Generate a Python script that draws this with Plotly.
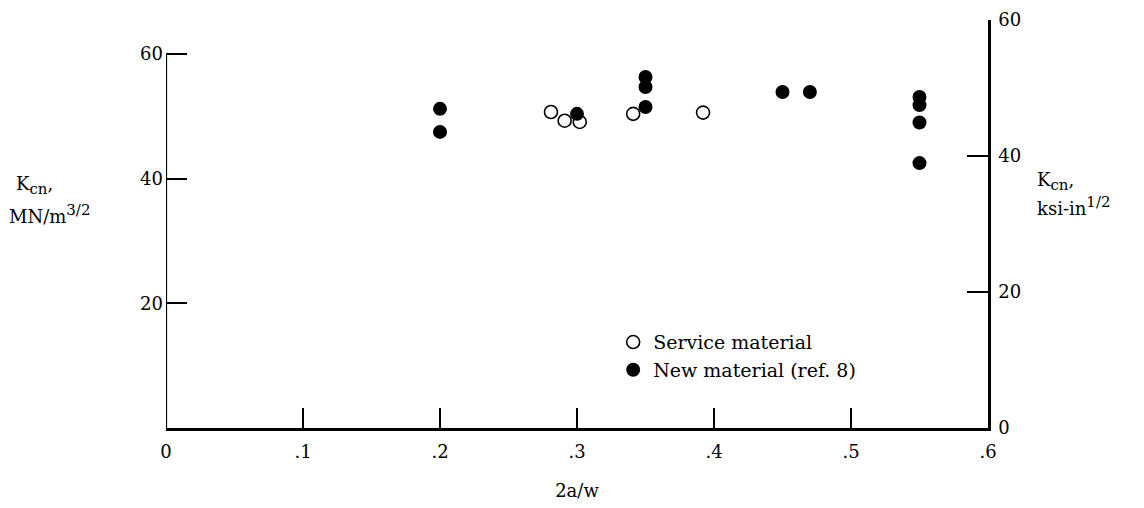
import plotly.graph_objects as go

# Data (K_cn in MN/m^3/2 vs 2a/w)
service_x = [0.281, 0.291, 0.302, 0.341, 0.392]
service_y = [50.7, 49.3, 49.1, 50.4, 50.6]

new_x = [0.20, 0.20, 0.30, 0.35, 0.35, 0.35, 0.45, 0.47, 0.55, 0.55, 0.55, 0.55]
new_y = [51.2, 47.5, 50.4, 56.3, 54.7, 51.5, 53.9, 53.9, 53.1, 51.8, 49.0, 42.5]

x_ticks = [0, 0.1, 0.2, 0.3, 0.4, 0.5, 0.6]
x_labels = ["0", ".1", ".2", ".3", ".4", ".5", ".6"]
left_ticks = [20, 40, 60]
right_ticks = [0, 20, 40, 60]

FONT = "DejaVu Serif"
left_top = 60 * 408 / 374  # left scale shown up to 60, right scale runs full height
x_max = 0.6
TS = 18

fig = go.Figure()
fig.add_trace(go.Scatter(
    x=service_x, y=service_y, mode="markers", name="Service material",
    marker=dict(symbol="circle-open", size=13, color="black", line=dict(width=1.6, color="black")),
))
fig.add_trace(go.Scatter(
    x=new_x, y=new_y, mode="markers", name="New material (ref. 8)",
    marker=dict(symbol="circle", size=14, color="black"),
))
# dummy trace to activate right axis
fig.add_trace(go.Scatter(x=[None], y=[None], yaxis="y2", showlegend=False))

# left axis line from 0 to 60
fig.add_shape(type="line", xref="x", yref="y", x0=0, x1=0, y0=0, y1=60,
              line=dict(color="black", width=2.2))

fig.update_layout(
    width=1144, height=508,
    margin=dict(l=166, r=156, t=20, b=80, autoexpand=False),
    paper_bgcolor="white", plot_bgcolor="white",
    font=dict(family=FONT, size=TS, color="black"),
    showlegend=True,
    legend=dict(x=0.544, y=0.176, xanchor="left", yanchor="middle",
                bgcolor="rgba(0,0,0,0)", font=dict(family=FONT, size=19),
                tracegroupgap=0, itemwidth=30),
    xaxis=dict(range=[0, x_max], tickvals=x_ticks[:-1] + [x_ticks[-1]], ticktext=x_labels, automargin=False,
               ticks="inside", ticklen=20, tickwidth=2, tickcolor="black",
               showline=True, linecolor="black", linewidth=2.5,
               showgrid=False, zeroline=False, ticklabelstandoff=6,
               title=dict(text="2a/w", font=dict(family=FONT, size=TS), standoff=24),
               tickfont=dict(family=FONT, size=TS)),
    yaxis=dict(range=[0, left_top], tickvals=left_ticks, ticks="inside", ticklen=21, automargin=False,
               tickwidth=1.5, tickcolor="black", showline=False, showgrid=False,
               zeroline=False, tickfont=dict(family=FONT, size=TS), ticklabelstandoff=2),
    yaxis2=dict(range=[0, 60], overlaying="y", side="right", tickvals=right_ticks, automargin=False,
                ticks="inside", ticklen=21, tickwidth=1.5, tickcolor="black",
                showline=True, linecolor="black", linewidth=2.5, showgrid=False,
                zeroline=False, tickfont=dict(family=FONT, size=TS), ticklabelstandoff=4),
)

SUP = '<span style="font-size:15px">'
fig.add_annotation(xref="paper", yref="paper", x=-0.185, y=0.595, xanchor="left", yanchor="middle",
                   showarrow=False, text="K<sub>" + SUP + "cn</span></sub>,",
                   font=dict(family=FONT, size=TS))
fig.add_annotation(xref="paper", yref="paper", x=-0.193, y=0.525, xanchor="left", yanchor="middle",
                   showarrow=False, text="MN/m<sup>" + SUP + "3/2</span></sup>",
                   font=dict(family=FONT, size=TS))
fig.add_annotation(xref="paper", yref="paper", x=1.057, y=0.603, xanchor="left", yanchor="middle",
                   showarrow=False, text="K<sub>" + SUP + "cn</span></sub>,",
                   font=dict(family=FONT, size=TS))
fig.add_annotation(xref="paper", yref="paper", x=1.057, y=0.545, xanchor="left", yanchor="middle",
                   showarrow=False, text="ksi-in<sup>" + SUP + "1/2</span></sup>",
                   font=dict(family=FONT, size=TS))

fig.write_html("out.html", config={"displayModeBar": False},
               post_script="document.body.style.margin='0px';")
